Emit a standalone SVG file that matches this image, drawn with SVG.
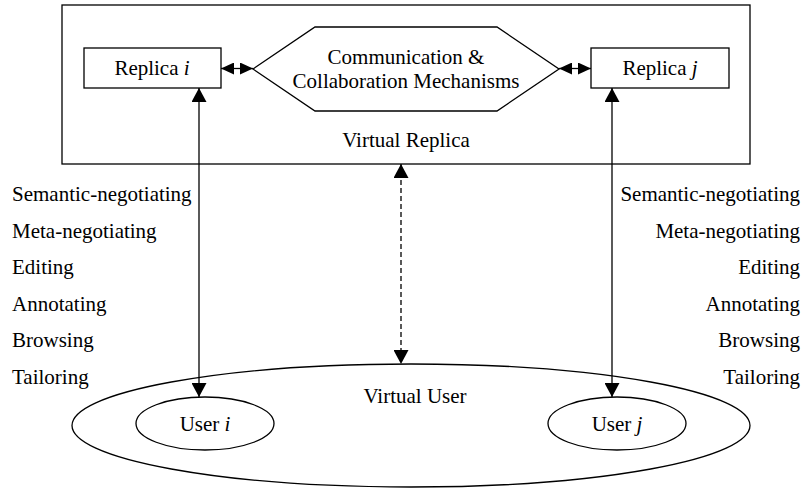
<svg xmlns="http://www.w3.org/2000/svg" width="802" height="490" viewBox="0 0 802 490">
  <style>
    .shape { fill: none; stroke: #000; stroke-width: 1.3; }
    .wire { fill: none; stroke: #000; stroke-width: 1.3; }
    .dash { stroke-dasharray: 5 3; }
    text { font-family: "Liberation Serif", "Times New Roman", serif; font-size: 21px; fill: #000; }
    .mid { text-anchor: middle; }
    .end { text-anchor: end; }
    .it { font-style: italic; }
  </style>
  <defs>
    <marker id="tri" viewBox="0 0 13 12" refX="13" refY="6" markerWidth="13" markerHeight="12" markerUnits="userSpaceOnUse" orient="auto-start-reverse">
      <path d="M0,0 L13,6 L0,12 Z" fill="#000"/>
    </marker>
    <marker id="triBig" viewBox="0 0 14 15" refX="14" refY="7.5" markerWidth="14" markerHeight="15" markerUnits="userSpaceOnUse" orient="auto-start-reverse">
      <path d="M0,0 L14,7.5 L0,15 Z" fill="#000"/>
    </marker>
  </defs>

  <rect fill="#fff" x="0" y="0" width="802" height="490"/>

  <!-- Virtual replica container -->
  <g id="virtual-replica">
    <rect class="shape" x="62" y="5" width="688" height="159"/>
    <text class="mid" x="406" y="147">Virtual Replica</text>
  </g>

  <g id="replica-i">
    <rect class="shape" x="84" y="48" width="137" height="40"/>
    <text class="mid" x="152" y="75">Replica <tspan class="it">i</tspan></text>
  </g>

  <g id="mechanisms">
    <polygon class="shape" points="253,69 315,27 497,27 559,69 497,111 315,111"/>
    <text class="mid" x="406" y="64">Communication &amp;</text>
    <text class="mid" x="406" y="88">Collaboration Mechanisms</text>
  </g>

  <g id="replica-j">
    <rect class="shape" x="591" y="48" width="138" height="40"/>
    <text class="mid" x="660" y="75">Replica <tspan class="it">j</tspan></text>
  </g>

  <!-- Virtual user group -->
  <g id="virtual-user">
    <ellipse class="shape" cx="411" cy="425.5" rx="339" ry="61.5"/>
    <text class="mid" x="415" y="403">Virtual User</text>
  </g>

  <g id="user-i">
    <ellipse class="shape" cx="205" cy="423.5" rx="69" ry="26.5"/>
    <text class="mid" x="205" y="431">User <tspan class="it">i</tspan></text>
  </g>

  <g id="user-j">
    <ellipse class="shape" cx="617" cy="423.5" rx="69" ry="26.5"/>
    <text class="mid" x="617" y="431">User <tspan class="it">j</tspan></text>
  </g>

  <!-- Activity labels -->
  <g id="activities-i">
    <text x="12" y="201">Semantic-negotiating</text>
    <text x="12" y="237.5">Meta-negotiating</text>
    <text x="12" y="274">Editing</text>
    <text x="12" y="310.5">Annotating</text>
    <text x="12" y="347">Browsing</text>
    <text x="12" y="383.5">Tailoring</text>
  </g>
  <g id="activities-j">
    <text class="end" x="800" y="201">Semantic-negotiating</text>
    <text class="end" x="800" y="237.5">Meta-negotiating</text>
    <text class="end" x="800" y="274">Editing</text>
    <text class="end" x="800" y="310.5">Annotating</text>
    <text class="end" x="800" y="347">Browsing</text>
    <text class="end" x="800" y="383.5">Tailoring</text>
  </g>

  <!-- Connectors -->
  <g id="connectors">
    <line class="wire" x1="221" y1="68.5" x2="253" y2="68.5" marker-start="url(#tri)" marker-end="url(#tri)"/>
    <line class="wire" x1="559" y1="68.5" x2="591" y2="68.5" marker-start="url(#tri)" marker-end="url(#tri)"/>
    <line class="wire" x1="199" y1="88" x2="199" y2="397" marker-start="url(#triBig)" marker-end="url(#triBig)"/>
    <line class="wire" x1="612" y1="88" x2="612" y2="397" marker-start="url(#triBig)" marker-end="url(#triBig)"/>
    <line class="wire dash" x1="401" y1="164" x2="401" y2="364" marker-start="url(#triBig)" marker-end="url(#triBig)"/>
  </g>
</svg>
